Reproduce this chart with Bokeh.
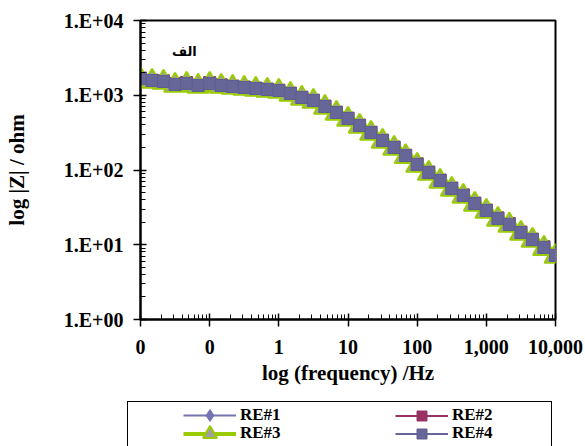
from bokeh.plotting import figure
from bokeh.layouts import column
from bokeh.models import Legend, LegendItem, FixedTicker, Label, Range1d, ColumnDataSource
from bokeh.embed import file_html
from bokeh.resources import INLINE

# ---- data ----
freq = [0.01, 0.0147, 0.0215, 0.0316, 0.0464, 0.0681, 0.1, 0.147, 0.215, 0.316, 0.464, 0.681,
        1, 1.47, 2.15, 3.16, 4.64, 6.81, 10, 14.7, 21.5, 31.6, 46.4, 68.1,
        100, 147, 215, 316, 464, 681, 1000, 1470, 2150, 3160, 4640, 6810, 10000]

re4 = [1675, 1575, 1528, 1393, 1436, 1350, 1436, 1350, 1309, 1270, 1231, 1194,
       1158, 1056, 933, 851, 708, 588, 489, 394, 317, 248, 200, 156,
       119, 92.7, 72.4, 56.6, 45.6, 35.6, 28.7, 22.5, 18.7, 14.6, 11.7, 9.2, 7.2]
re1 = [1660, 1570, 1520, 1400, 1430, 1345, 1430, 1345, 1305, 1265, 1228, 1190,
       1150, 1050, 930, 848, 705, 586, 487, 392, 316, 247, 199, 155,
       118, 92.2, 72.0, 56.3, 45.3, 35.4, 28.5, 22.4, 18.6, 14.5, 11.6, 9.1, 7.1]
re2 = [1700, 1590, 1560, 1440, 1480, 1370, 1480, 1380, 1330, 1290, 1250, 1210,
       1170, 1070, 945, 860, 716, 595, 495, 399, 321, 251, 203, 158,
       121, 94.0, 73.4, 57.5, 46.5, 36.2, 29.2, 22.9, 19.2, 14.8, 11.9, 9.4, 7.3]
re3 = [1620, 1530, 1480, 1350, 1390, 1310, 1390, 1310, 1270, 1235, 1195, 1160,
       1125, 1025, 905, 826, 688, 571, 475, 383, 308, 241, 194, 151,
       115, 90.0, 70.3, 55.0, 44.3, 34.6, 27.9, 21.8, 18.2, 14.2, 11.4, 8.9, 7.0]

series_names = ["RE#1", "RE#2", "RE#3", "RE#4"]

x_ticks = [0.01, 0.1, 1, 10, 100, 1000, 10000]
x_tick_labels = ["0", "0", "1", "10", "100", "1,000", "10,000"]
y_ticks = [1, 10, 100, 1000, 10000]
y_tick_labels = ["1.E+00", "1.E+01", "1.E+02", "1.E+03", "1.E+04"]

FONT = "Liberation Serif"

W = 585
MAIN_H = 398
STRIP_H = 48

p = figure(width=W, height=MAIN_H, x_axis_type="log", y_axis_type="log",
           x_range=Range1d(0.01, 10000), y_range=Range1d(1, 10000),
           output_backend="svg", toolbar_location=None,
           min_border_left=140, min_border_right=W - 140 - 415, min_border_top=20,
           min_border_bottom=MAIN_H - 20 - 299)
p.frame_align = False

p.xgrid.visible = False
p.ygrid.visible = False
p.outline_line_color = "black"
p.outline_line_width = 2
p.outline_line_alpha = 1

x_minor = [m * 10.0 ** e for e in range(-2, 4) for m in range(2, 10)]
y_minor = [m * 10.0 ** e for e in range(0, 4) for m in range(2, 10)]
p.xaxis.ticker = FixedTicker(ticks=x_ticks, minor_ticks=x_minor)
p.yaxis.ticker = FixedTicker(ticks=y_ticks, minor_ticks=y_minor)
p.xaxis.major_label_overrides = dict(zip(x_ticks, x_tick_labels))
p.yaxis.major_label_overrides = dict(zip(y_ticks, y_tick_labels))

p.xaxis.axis_label = "log (frequency) /Hz"
p.yaxis.axis_label = "log |Z| / ohm"

for ax in (p.xaxis[0], p.yaxis[0]):
    ax.axis_line_width = 2
    ax.axis_line_color = "black"
    ax.major_tick_line_color = "black"
    ax.minor_tick_line_color = "black"
    ax.major_tick_line_width = 1.5
    ax.minor_tick_line_width = 1
    ax.major_tick_out = 7
    ax.major_tick_in = 6
    ax.minor_tick_in = 5
    ax.minor_tick_out = 0
    ax.major_label_text_font = FONT
    ax.major_label_text_font_style = "bold"
    ax.major_label_text_font_size = "20px"
    ax.major_label_text_color = "black"
    ax.axis_label_text_font = FONT
    ax.axis_label_text_font_style = "bold"
    ax.axis_label_text_font_size = "21px"
    ax.axis_label_text_color = "black"

p.xaxis.major_label_standoff = 13
p.yaxis.major_label_standoff = 10
p.xaxis.axis_label_standoff = 4
p.yaxis.axis_label_standoff = 32

c1, c2, c3, c3f, c4 = "#7474B0", "#993366", "#99CC00", "#A0A0A0", "#666699"
c4_line = "#5E5E90"

src = ColumnDataSource(dict(f=freq, r1=re1, r2=re2, r3=re3, r4=re4))

def draw_series(fig):
    r = {}
    r[1] = (fig.line("f", "r1", source=src, line_color=c1, line_width=2),
            fig.scatter("f", "r1", source=src, marker="diamond", size=14, fill_color=c1, line_color=c1))
    r[2] = (fig.line("f", "r2", source=src, line_color=c2, line_width=2),
            fig.scatter("f", "r2", source=src, marker="square", size=12, fill_color=c2, line_color=c2))
    r[3] = (fig.line("f", "r3", source=src, line_color=c3, line_width=4),
            fig.scatter("f", "r3", source=src, marker="triangle", size=22, fill_color=c3f,
                        line_color=c3, line_width=2))
    r[4] = (fig.line("f", "r4", source=src, line_color=c4, line_width=2),
            fig.scatter("f", "r4", source=src, marker="square", size=12, fill_color=c4, line_color=c4_line))
    return r

draw_series(p)

p.add_layout(Label(x=0.043, y=3900, text="الف", text_font="DejaVu Sans",
                   text_font_style="bold", text_font_size="13px",
                   text_align="center", text_baseline="middle", text_color="black"))

# ---- legend strip (separate figure under the chart; its own series sit outside its view) ----
q = figure(width=W, height=STRIP_H, output_backend="svg", toolbar_location=None,
           x_axis_location=None, y_axis_location=None,
           x_range=Range1d(1e6, 2e6), y_range=Range1d(1e6, 2e6),
           min_border_left=0, min_border_right=0, min_border_top=0, min_border_bottom=0)
q.frame_align = False
q.xgrid.visible = False
q.ygrid.visible = False
q.outline_line_alpha = 0

g = draw_series(q)
dummy = q.scatter("f", "r1", source=src, alpha=0)

BOTTOM = MAIN_H + STRIP_H  # picture y of the strip's bottom edge

box = Legend(items=[LegendItem(label=" ", renderers=[dummy])], location=(127, BOTTOM - 455),
             glyph_width=1, glyph_height=52, label_height=52, label_width=422,
             label_standoff=0, padding=0, margin=0, spacing=0,
             border_line_color="black", border_line_width=1, border_line_alpha=1,
             background_fill_color="white", background_fill_alpha=1)
q.add_layout(box)

def add_item(name, renderers, page_x, center_y, gh):
    h = max(gh, 19)
    vy = BOTTOM - (center_y + h / 2)
    lg = Legend(items=[LegendItem(label=name, renderers=list(renderers))], location=(page_x, vy),
                glyph_width=53, glyph_height=gh, label_height=gh, label_standoff=4,
                padding=0, margin=0, spacing=0,
                border_line_alpha=0, background_fill_alpha=0,
                label_text_font=FONT, label_text_font_style="bold",
                label_text_font_size="17px", label_text_color="black")
    q.add_layout(lg)

add_item(series_names[0], g[1], 183, 415, 30)
add_item(series_names[1], g[2], 395, 415, 25)
add_item(series_names[2], g[3], 183, 433, 35)
add_item(series_names[3], g[4], 395, 433, 25)

open("out.html", "w").write(file_html(column(p, q, spacing=0), INLINE))
